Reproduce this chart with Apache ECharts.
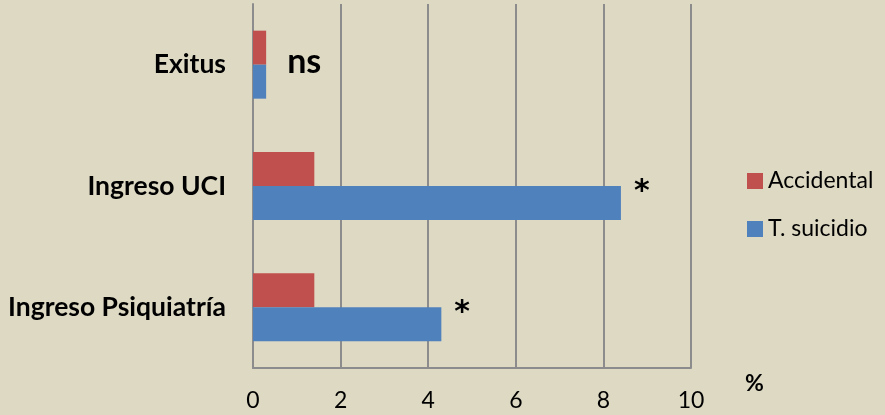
<!DOCTYPE html>
<html>
<head>
<meta charset="utf-8">
<script src="https://cdn.jsdelivr.net/npm/echarts@6/dist/echarts.min.js"></script>
<style>
html, body { margin: 0; padding: 0; background: #ddd9c3; }
#chart { width: 885px; height: 415px; }
</style>
</head>
<body>
<div id="chart"></div>
<script>
// categories bottom -> top
var categories = ['Ingreso Psiquiatría', 'Ingreso UCI', 'Exitus'];
var accidental = [1.4, 1.4, 0.3];
var suicidio = [4.3, 8.4, 0.3];
var marks = ['*', '*', 'ns'];
var xTicks = [0, 2, 4, 6, 8, 10];

var fontName = 'Lato';
var chart = echarts.init(document.getElementById('chart'));

// significance marks hang off the blue bars
var suicidioData = suicidio.map(function (v, i) {
    var isNs = marks[i] === 'ns';
    return {
        value: v,
        label: {
            formatter: marks[i],
            fontFamily: isNs ? fontName : 'DejaVu Sans',
            fontSize: isNs ? 34 : 30,
            distance: isNs ? 21 : 13,
            offset: isNs ? [0, -20] : [0, -11]
        }
    };
});

var option = {
    backgroundColor: '#ddd9c3',
    animation: false,
    textStyle: { fontFamily: fontName },
    grid: { left: 253, right: 194, top: 4, bottom: 47 },
    legend: {
        orient: 'vertical',
        left: 747,
        top: 169,
        padding: 0,
        itemWidth: 16,
        itemHeight: 16,
        itemGap: 24,
        icon: 'rect',
        data: ['Accidental', 'T. suicidio'],
        textStyle: { fontSize: 23, lineHeight: 24, color: '#000', fontFamily: fontName }
    },
    xAxis: {
        type: 'value',
        min: xTicks[0],
        max: xTicks[xTicks.length - 1],
        interval: 2,
        name: '%',
        nameLocation: 'end',
        nameGap: 54,
        nameTextStyle: { fontSize: 23, fontWeight: 'bold', color: '#000', verticalAlign: 'top', padding: [4, 0, 0, 0] },
        axisLine: { show: true, lineStyle: { color: '#8c8c8c', width: 2 } },
        axisTick: { show: false },
        axisLabel: { fontSize: 23, color: '#000', margin: 21 },
        splitLine: { show: true, lineStyle: { color: '#8c8c8c', width: 2 } }
    },
    yAxis: {
        type: 'category',
        data: categories,
        axisLine: { show: true, lineStyle: { color: '#8c8c8c', width: 2 } },
        axisTick: { show: false },
        axisLabel: { fontSize: 26.5, fontWeight: 'bold', color: '#000', margin: 27 }
    },
    series: [
        {
            name: 'Accidental',
            type: 'bar',
            data: accidental,
            barWidth: 34,
            barGap: '0%',
            itemStyle: { color: '#c0504d' }
        },
        {
            name: 'T. suicidio',
            type: 'bar',
            data: suicidioData,
            barWidth: 34,
            barGap: '0%',
            itemStyle: { color: '#4f81bd' },
            label: {
                show: true,
                position: 'right',
                fontWeight: 'bold',
                color: '#000'
            }
        }
    ]
};
chart.setOption(option);
</script>
</body>
</html>
